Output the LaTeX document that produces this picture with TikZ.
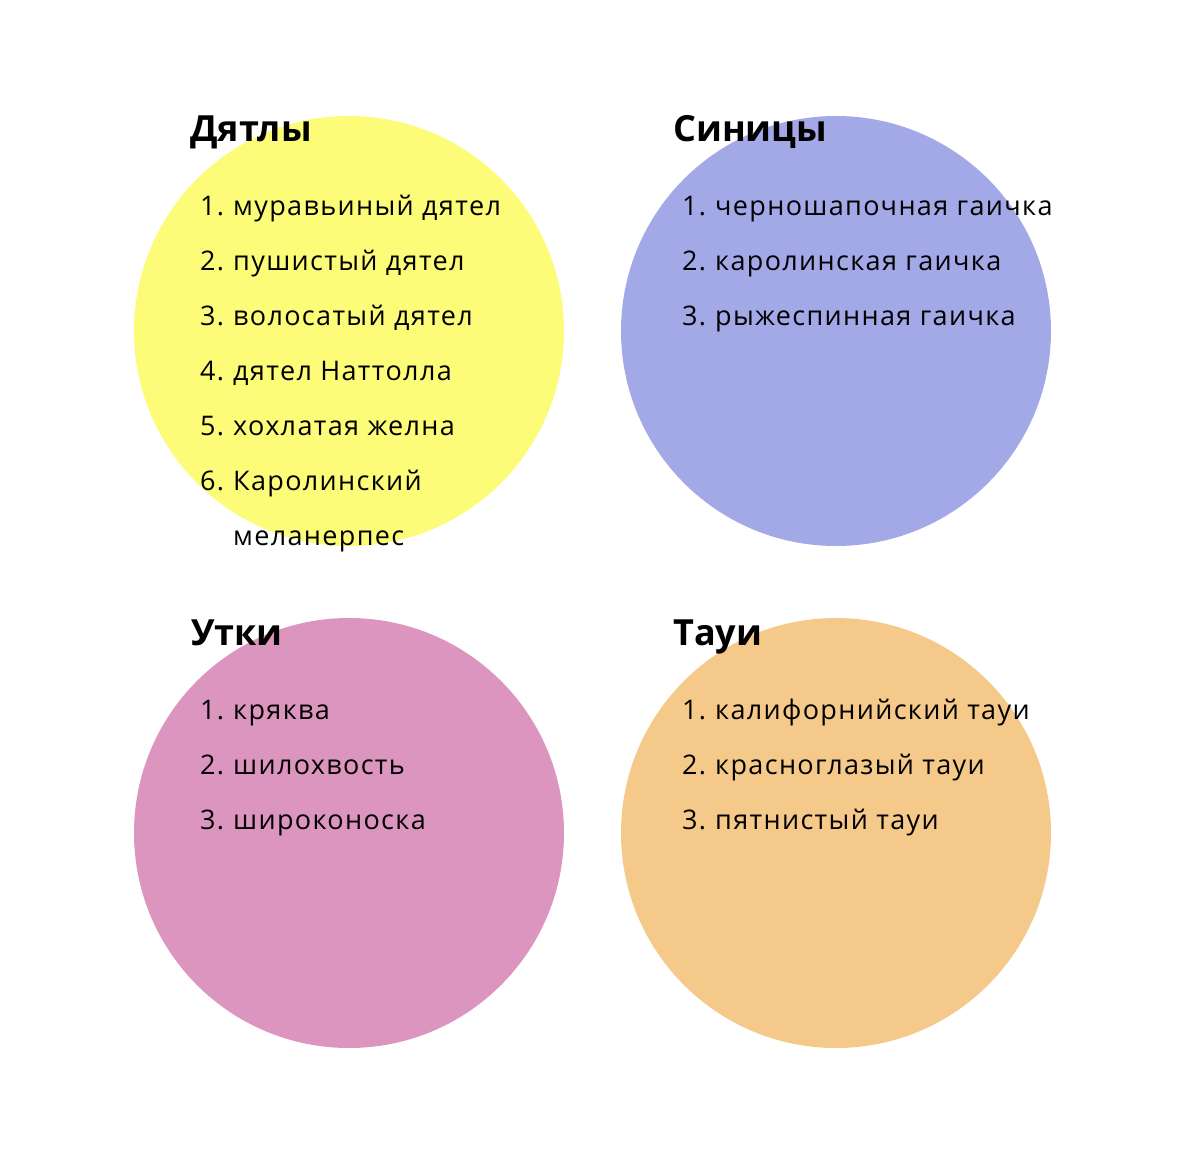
\documentclass[tikz,border=0pt]{standalone}
\usepackage{fontspec}
\setmainfont{Open Sans}
\newfontfamily\entryfont[LetterSpace=5]{Open Sans}
\usetikzlibrary{positioning}
\definecolor{woodpeckerfill}{RGB}{252,252,120}
\definecolor{titfill}{RGB}{163,168,230}
\definecolor{duckfill}{RGB}{219,149,190}
\definecolor{quailfill}{RGB}{244,201,138}
\tikzset{
  blob/.style={circle,minimum size=430pt,inner sep=0pt},
  grouptitle/.style={anchor=base west,inner sep=0pt,font=\fontsize{36}{36}\selectfont\bfseries},
  entry/.style={anchor=base west,inner sep=0pt,font=\fontsize{27}{27}\entryfont}
}
\begin{document}
\begin{tikzpicture}[x=1pt,y=-1pt]
        \useasboundingbox (0,0) rectangle (1200,1152);
        % circles
        \node[blob,fill=woodpeckerfill] (woodpecker) at (349,331) {};
        \node[blob,fill=titfill] (tit) at (836,331) {};
        \node[blob,fill=duckfill] (duck) at (349,833) {};
        \node[blob,fill=quailfill] (quail) at (836,833) {};
        % titles
        \node[grouptitle] (woodpecker-title) at (190,141) {Дятлы};
        \node[grouptitle] (tit-title) at (673,141) {Синицы};
        \node[grouptitle] (duck-title) at (191,645) {Утки};
        \node[grouptitle] (quail-title) at (673,645) {Тауи};
        % lists
        \foreach \txt [count=\i] in {муравьиный дятел,пушистый дятел,волосатый дятел,дятел Наттолла,хохлатая желна,Каролинский} {
            \node[entry] (woodpecker-num-\i) at (200,160+55*\i) {\i.};
            \node[entry] (woodpecker-\i) at (233,160+55*\i) {\txt};
        }
        \node[entry] (woodpecker-6b) at (233,545) {меланерпес};
        \foreach \txt [count=\i] in {черношапочная гаичка,каролинская гаичка,рыжеспинная гаичка} {
            \node[entry] (tit-num-\i) at (682,160+55*\i) {\i.};
            \node[entry] (tit-\i) at (715,160+55*\i) {\txt};
        }
        \foreach \txt [count=\i] in {кряква,шилохвость,широконоска} {
            \node[entry] (duck-num-\i) at (200,664+55*\i) {\i.};
            \node[entry] (duck-\i) at (233,664+55*\i) {\txt};
        }
        \foreach \txt [count=\i] in {калифорнийский тауи,красноглазый тауи,пятнистый тауи} {
            \node[entry] (quail-num-\i) at (682,664+55*\i) {\i.};
            \node[entry] (quail-\i) at (715,664+55*\i) {\txt};
        }
    \end{tikzpicture}
\end{document}
